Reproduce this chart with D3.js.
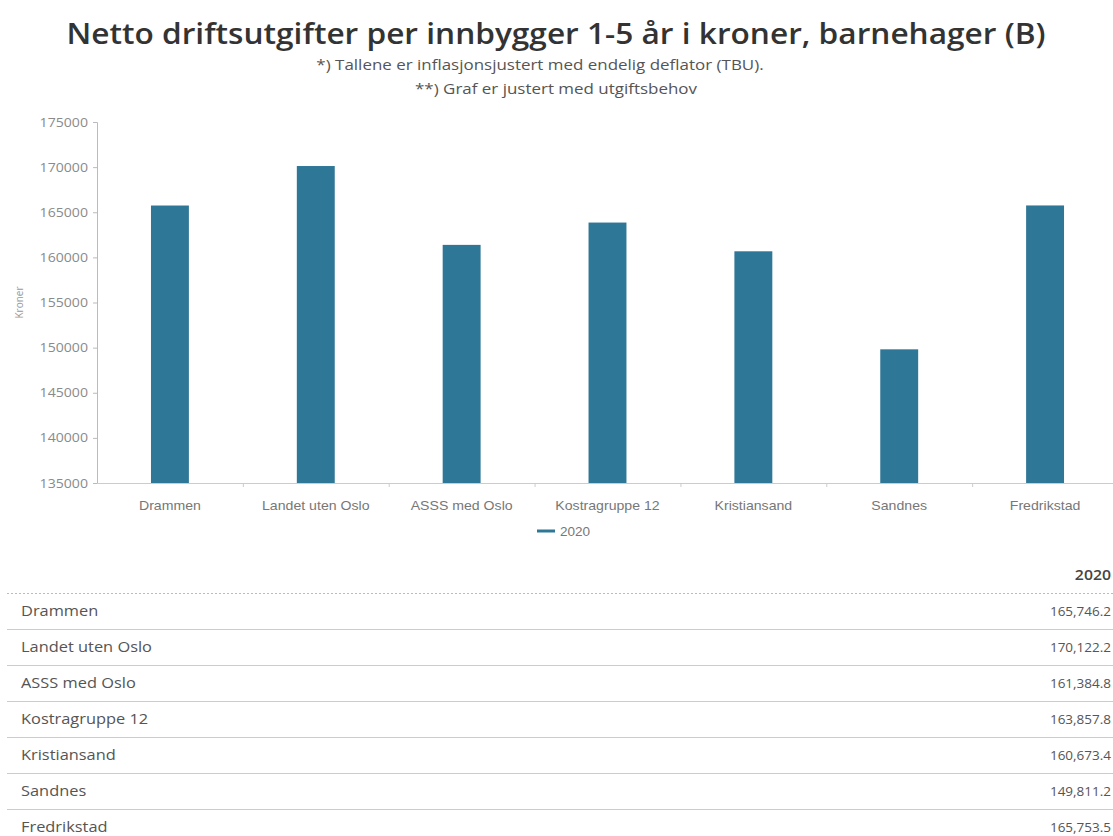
<!DOCTYPE html>
<html>
<head>
<meta charset="utf-8">
<script src="https://cdn.jsdelivr.net/npm/d3@7"></script>
<style>
  body { margin: 0; background: #fff; }
  svg text { font-family: 'Open Sans', sans-serif; }
</style>
</head>
<body>
<svg id="chart" width="1113" height="836"></svg>
<script>
'use strict';

// data
const categories = [
  'Drammen',
  'Landet uten Oslo',
  'ASSS med Oslo',
  'Kostragruppe 12',
  'Kristiansand',
  'Sandnes',
  'Fredrikstad',
];
const values2020 = [165746.2, 170122.2, 161384.8, 163857.8, 160673.4, 149811.2, 165753.5];
const yTicks = [135000, 140000, 145000, 150000, 155000, 160000, 165000, 170000, 175000];
const seriesName = '2020';

const titleText = 'Netto driftsutgifter per innbygger 1-5 år i kroner, barnehager (B)';
const subtitleLines = [
  '*) Tallene er inflasjonsjustert med endelig deflator (TBU).',
  '**) Graf er justert med utgiftsbehov',
];

const barColor = '#2f7797';
const greyText = '#777';
// the source screenshot is a bit wider than tall, so text gets stretched sideways
const SX = 1.13;
const svg = d3.select('#chart');

function stretch(x, y) {
  return 'translate(' + x + ',' + y + ') scale(' + SX + ',1)';
}

// titles
svg.append('text')
  .attr('transform', stretch(556, 44))
  .attr('text-anchor', 'middle')
  .style('font-size', '28px')
  .style('font-weight', 600)
  .style('fill', '#333')
  .text(titleText);

svg.selectAll('.subtitle')
  .data(subtitleLines)
  .enter()
  .append('text')
  .attr('class', 'subtitle')
  .attr('transform', (d, i) => stretch(i === 0 ? 540 : 556, 70 + i * 24))
  .attr('text-anchor', 'middle')
  .style('font-size', '15px')
  .style('fill', '#555')
  .text((d) => d);

// chart area
const plot = { left: 97, right: 1118, top: 122, bottom: 483 };

const xScale = d3.scaleBand()
  .domain(categories)
  .range([plot.left, plot.right])
  .paddingInner(0.74)
  .paddingOuter(0.37);

const yScale = d3.scaleLinear()
  .domain([135000, 175000])
  .range([plot.bottom, plot.top]);

// y axis
const yAxis = d3.axisLeft(yScale)
  .tickValues(yTicks)
  .tickFormat(d3.format('d'))
  .tickSize(4)
  .tickPadding(5);

svg.append('g')
  .attr('transform', 'translate(' + plot.left + ',0)')
  .call(yAxis)
  .call((g) => {
    g.select('.domain').attr('stroke', '#bbb');
    g.selectAll('line').attr('stroke', '#bbb');
    g.selectAll('text')
      .attr('x', null)
      .attr('transform', stretch(-9, 0))
      .style('font-family', "'Open Sans', sans-serif")
      .style('font-size', '12.5px')
      .attr('fill', '#8a8a8a');
  });

svg.append('text')
  .attr('transform', 'translate(23,' + (plot.top + plot.bottom) / 2 + ') rotate(-90)')
  .attr('text-anchor', 'middle')
  .style('font-size', '10px')
  .style('fill', '#999')
  .text('Kroner');

// bars
svg.selectAll('.bar')
  .data(values2020)
  .enter()
  .append('rect')
  .attr('class', 'bar')
  .attr('x', (d, i) => xScale(categories[i]))
  .attr('y', (d) => yScale(d))
  .attr('width', xScale.bandwidth())
  .attr('height', (d) => yScale(135000) - yScale(d))
  .attr('fill', barColor);

// x axis: baseline, ticks between bands, labels
const xg = svg.append('g');
xg.append('line')
  .attr('x1', plot.left)
  .attr('x2', plot.right)
  .attr('y1', plot.bottom + 0.5)
  .attr('y2', plot.bottom + 0.5)
  .attr('stroke', '#ccc');

const step = xScale.step();
xg.selectAll('.xtick')
  .data(categories.slice(1))
  .enter()
  .append('line')
  .attr('class', 'xtick')
  .attr('x1', (d) => xScale(d) - step * 0.37 + 0.5)
  .attr('x2', (d) => xScale(d) - step * 0.37 + 0.5)
  .attr('y1', plot.bottom)
  .attr('y2', plot.bottom + 4)
  .attr('stroke', '#ccc');

xg.selectAll('.xlabel')
  .data(categories)
  .enter()
  .append('text')
  .attr('class', 'xlabel')
  .attr('transform', (d) => stretch(xScale(d) + xScale.bandwidth() / 2, 510))
  .attr('text-anchor', 'middle')
  .style('font-family', "'Liberation Sans', Arial, sans-serif")
  .style('font-size', '12.5px')
  .style('fill', greyText)
  .text((d) => d);

// legend
const legend = svg.append('g').attr('transform', 'translate(537,531)');
legend.append('line')
  .attr('x1', 0)
  .attr('x2', 18)
  .attr('stroke', barColor)
  .attr('stroke-width', 3);
legend.append('text')
  .attr('transform', stretch(23, 4.5))
  .style('font-family', "'Liberation Sans', Arial, sans-serif")
  .style('font-size', '12px')
  .style('fill', greyText)
  .text(seriesName);

// table
const table = svg.append('g');
const rowH = 36;
const rowTop = 594;
const fmt = d3.format(',.1f');

table.append('text')
  .attr('transform', stretch(1111, 580))
  .attr('text-anchor', 'end')
  .style('font-size', '14px')
  .style('font-weight', 600)
  .style('fill', '#444')
  .text(seriesName);

table.append('line')
  .attr('x1', 7)
  .attr('x2', 1113)
  .attr('y1', rowTop - 0.5)
  .attr('y2', rowTop - 0.5)
  .attr('stroke', '#bbb')
  .attr('stroke-dasharray', '2,2');

const rows = table.selectAll('.row')
  .data(categories)
  .enter()
  .append('g')
  .attr('class', 'row')
  .attr('transform', (d, i) => 'translate(0,' + (rowTop + i * rowH) + ')');

rows.append('text')
  .attr('transform', stretch(21, 22))
  .style('font-size', '14.5px')
  .style('fill', '#555')
  .text((d) => d);

rows.append('text')
  .attr('x', 1111)
  .attr('y', 22)
  .attr('text-anchor', 'end')
  .style('font-size', '13.5px')
  .style('fill', '#555')
  .text((d, i) => fmt(values2020[i]));

rows.filter((d, i) => i < categories.length - 1)
  .append('line')
  .attr('x1', 7)
  .attr('x2', 1113)
  .attr('y1', rowH - 0.5)
  .attr('y2', rowH - 0.5)
  .attr('stroke', '#ccc');
</script>
</body>
</html>
